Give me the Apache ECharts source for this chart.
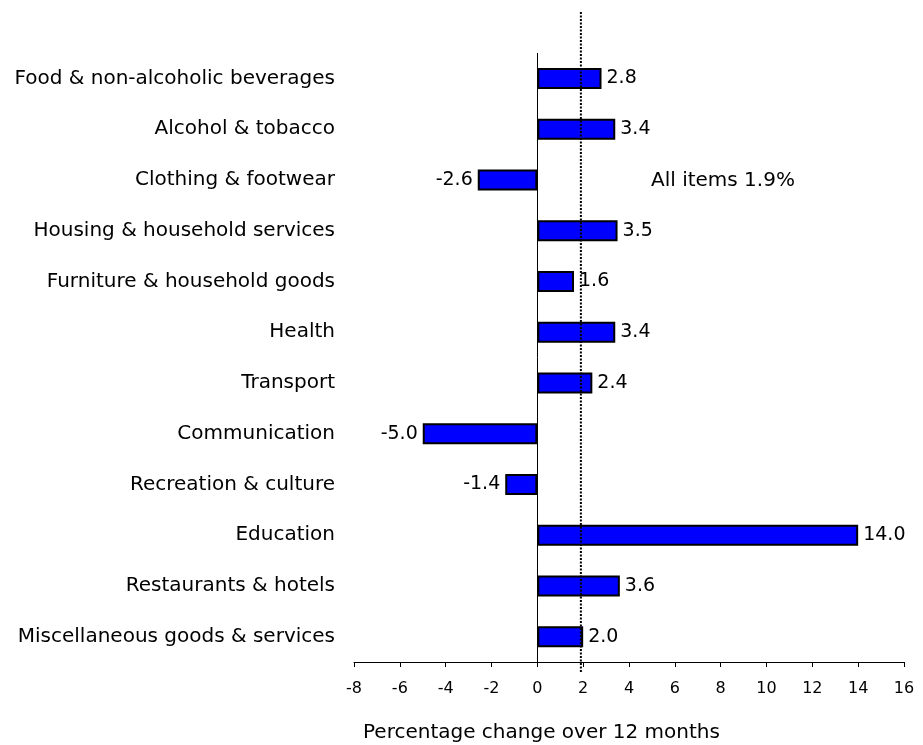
<!DOCTYPE html>
<html><head><meta charset="utf-8">
<script src="https://cdn.jsdelivr.net/npm/echarts/dist/echarts.min.js"></script>
<style>html,body{margin:0;padding:0;background:#fff}#c{width:923px;height:745px}</style>
</head><body><div id="c"></div>
<script>
const categories = [
  'Food & non-alcoholic beverages',
  'Alcohol & tobacco',
  'Clothing & footwear',
  'Housing & household services',
  'Furniture & household goods',
  'Health',
  'Transport',
  'Communication',
  'Recreation & culture',
  'Education',
  'Restaurants & hotels',
  'Miscellaneous goods & services'
];
const values = [2.8, 3.4, -2.6, 3.5, 1.6, 3.4, 2.4, -5.0, -1.4, 14.0, 3.6, 2.0];
const xMin = -8, xMax = 16, xStep = 2;
const allItemsValue = 1.9;
const allItemsLabel = 'All items 1.9%';
const xAxisTitle = 'Percentage change over 12 months';

const FONT = 'DejaVu Sans';
const chart = echarts.init(document.getElementById('c'), null, {renderer: 'canvas'});

const barData = values.map(v => ({
  value: v,
  label: {position: v < 0 ? 'left' : 'right'}
}));

chart.setOption({
  animation: false,
  backgroundColor: '#fff',
  grid: {left: 354, right: 19, top: 53, bottom: 83, containLabel: false, outerBoundsMode: 'none'},
  xAxis: {
    type: 'value', min: xMin, max: xMax, interval: xStep,
    splitLine: {show: false},
    axisLine: {show: true, onZero: false, lineStyle: {color: '#000', width: 1}},
    axisTick: {show: true, length: 5, lineStyle: {color: '#000'}},
    axisLabel: {color: '#000', fontFamily: FONT, fontSize: 16, margin: 19}
  },
  yAxis: {
    type: 'category', data: categories, inverse: true,
    axisLine: {show: false}, axisTick: {show: false}, splitLine: {show: false},
    axisLabel: {color: '#000', fontFamily: FONT, fontSize: 20, margin: 19}
  },
  series: [{
    type: 'bar', data: barData, barWidth: 21,
    itemStyle: {color: '#0000FF', borderColor: '#000', borderWidth: 2},
    label: {show: true, color: '#000', fontFamily: FONT, fontSize: 19, distance: 5,
      formatter: p => Number(p.value).toFixed(1)},
    markLine: {
      silent: true, symbol: 'none', label: {show: false},
      lineStyle: {color: '#000', width: 1, type: 'solid'},
      data: [{xAxis: 0}]
    }
  }]
});

const xRef = chart.convertToPixel({xAxisIndex: 0}, allItemsValue);
chart.setOption({
  graphic: [
    {type: 'line', z: 100, shape: {x1: xRef, y1: 12, x2: xRef, y2: 673},
     style: {stroke: '#000', lineWidth: 2, lineDash: [2, 1.5]}},
    {type: 'text', z: 100, x: 651, y: 181,
     style: {text: allItemsLabel, fill: '#000', font: '20px "DejaVu Sans"', verticalAlign: 'middle', align: 'left'}},
    {type: 'text', z: 100, x: 363, y: 733,
     style: {text: xAxisTitle, fill: '#000', font: '20px "DejaVu Sans"', verticalAlign: 'middle', align: 'left'}}
  ]
});
</script></body></html>
